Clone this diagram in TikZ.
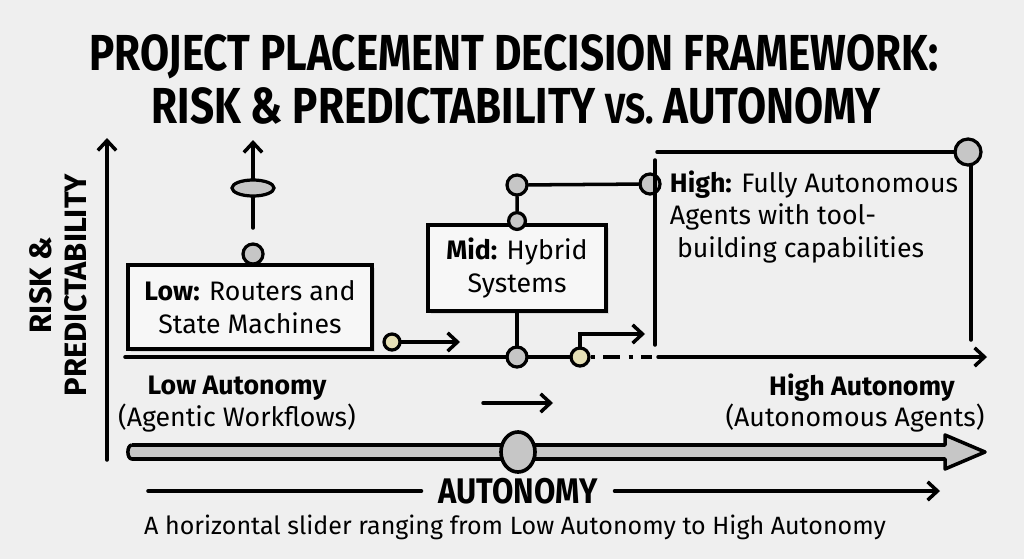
\documentclass[tikz,border=0pt]{standalone}
\usepackage{fontspec}
\setmainfont{Fira Sans}
\usepackage{graphicx}
\usepackage{tikz}
\usetikzlibrary{shapes, calc, arrows.meta, shadows}
\definecolor{bg}{HTML}{EFEFEF}
\definecolor{knob}{HTML}{C6C6C6}
\definecolor{pale}{HTML}{E6E0B6}

\begin{document}
\begin{tikzpicture}[x=0.025cm, y=-0.025cm, >={Straight Barb[length=7pt,width=13pt]},
    ln/.style={line width=2.5pt, line cap=round},
    box/.style={draw, line width=2.5pt, fill=bg!50!white, align=center,
        font=\fontsize{19}{23}\selectfont,
        drop shadow={opacity=0.2, shadow xshift=2pt, shadow yshift=-2pt}},
    dot/.style={circle, draw, line width=2.3pt, fill=knob, inner sep=0pt, minimum size=0.5cm},
    ydot/.style={dot, fill=pale, minimum size=0.4cm},
    lbl/.style={font=\fontsize{19}{22}\selectfont}]
        \fill[bg] (0,0) rectangle (1024,559);
        \useasboundingbox (0,0) rectangle (1024,559);

        % title
        \node[font=\fontsize{30}{35}\selectfont\bfseries] (t1) at (514,57) {\scalebox{1}[1.2]{PROJECT PLACEMENT DECISION FRAMEWORK:}};
        \node[font=\fontsize{30}{35}\selectfont\bfseries] (t2) at (516,106) {\scalebox{1}[1.2]{RISK \& PREDICTABILITY {\fontsize{25}{30}\selectfont VS.} AUTONOMY}};

        % axes
        \coordinate (o) at (107,460);
        \coordinate (ytop) at (107,138);
        \draw[ln,->] (o) -- (ytop);
        \node[rotate=90, align=center, font=\fontsize{22}{25}\selectfont\bfseries] (ylab) at (58,285) {RISK \&\\PREDICTABILITY};

        \coordinate (x0) at (125,357);
        \coordinate (xd) at (652,357);
        \coordinate (x1) at (658,357);
        \coordinate (xend) at (987,357);

        % low
        \node[box, minimum width=6.1cm, minimum height=2.1cm] (low) at (250,307) {\textbf{Low:} Routers and\\State Machines};
        \node[dot] (lt) at (253,254) {};
        \coordinate (u0) at (253,228);
        \coordinate (u1) at (253,140);
        \draw[ln,->] (u0) -- (u1);
        \node[ellipse, draw, line width=2.3pt, fill=knob, minimum width=1.05cm, minimum height=0.4cm] (k0) at (253,188) {};

        \node[ydot] (y1) at (392,342) {};
        \coordinate (y1e) at (460,342);
        \draw[ln,->] (y1) -- (y1e);

        % mid
        \node[box, minimum width=4.45cm, minimum height=2.15cm] (mid) at (517,268) {\textbf{Mid:} Hybrid\\Systems};
        \node[dot, minimum size=0.42cm] (mt) at (517,221) {};
        \node[dot] (mtop) at (517,185) {};
        \node[dot] (hl) at (650,184) {};
        \node[dot] (md) at (517,357) {};
        \node[ydot, minimum size=0.45cm] (y2) at (580,357) {};
        \coordinate (y2e) at (645,334);
        \draw[ln] (mt) -- (mtop) -- (hl);
        \draw[ln] (mid.south) -- (md);
        \draw[ln] (x0) -- (md) -- (y2);
        \draw[ln, line cap=butt, dash pattern=on 3pt off 6pt on 12pt off 6pt] (y2) -- (xd);
        \draw[ln,->] (y2.north) |- (y2e);
        \draw[ln,->] (x1) -- (xend);

        % high
        \coordinate (h0) at (655,160);
        \coordinate (h1) at (655,345);
        \coordinate (h2) at (657,152);
        \coordinate (h3) at (971,165);
        \coordinate (h4) at (971,340);
        \node[dot, minimum size=0.65cm] (hr) at (968,152) {};
        \draw[ln] (h0) -- (h1);
        \draw[ln] (h2) -- (hr);
        \draw[ln] (h3) -- (h4);
        \node[anchor=north west, align=left, font=\fontsize{19}{23}\selectfont] (high) at (665,166) {\textbf{High:} Fully Autonomous\\Agents with tool-\\\ building capabilities};

        % labels
        \node[lbl, font=\fontsize{19}{22}\selectfont\bfseries] (la) at (237,388) {Low Autonomy};
        \node[lbl] (lw) at (237,418) {(Agentic Workflows)};
        \node[lbl, font=\fontsize{19}{22}\selectfont\bfseries] (ha) at (862,388) {High Autonomy};
        \node[lbl] (hw) at (855,418) {(Autonomous Agents)};
        \coordinate (m0) at (483,403);
        \coordinate (m1) at (553,403);
        \draw[ln,->] (m0) -- (m1);

        % slider
        \filldraw[fill=knob, line width=2.5pt, line join=round] (132,445) -- (945,445) -- (945,435) -- (985,452) -- (945,469) -- (945,459) -- (132,459) to[out=180,in=180] (132,445);
        \node[ellipse, draw, line width=2.6pt, fill=knob, minimum width=0.85cm, minimum height=1cm] (k1) at (518,452) {};

        \node[font=\fontsize{22}{26}\selectfont\bfseries, inner xsep=12pt] (aut) at (518,491) {\scalebox{1}[1.15]{AUTONOMY}};
        \coordinate (a0) at (148,491);
        \coordinate (a1) at (940,491);
        \draw[ln] (a0) -- (aut.west);
        \draw[ln,->] (aut.east) -- (a1);
        \node[font=\fontsize{17.8}{20}\selectfont] (cap) at (515,527) {A horizontal slider ranging from Low Autonomy to High Autonomy};
\end{tikzpicture}
\end{document}
